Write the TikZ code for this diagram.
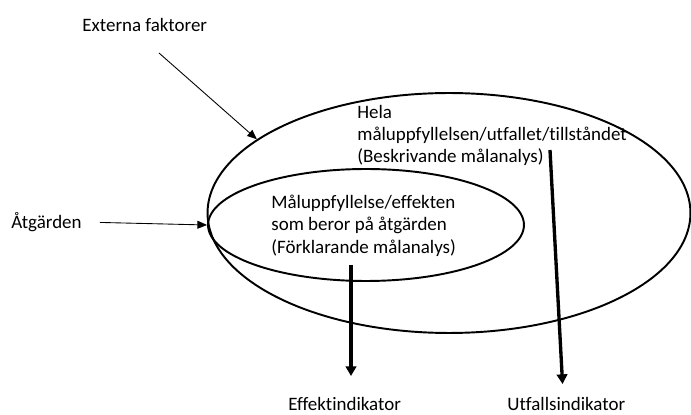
\documentclass[tikz,border=0pt]{standalone}
\usepackage{fontspec}
\setmainfont{Carlito}[Ligatures=NoCommon]
\usetikzlibrary{shapes.geometric, arrows.meta, positioning}
\tikzset{
  lbl/.style={inner sep=0pt, align=left, font=\fontsize{10.8}{12.6}\selectfont},
  ring/.style={ellipse, draw, line width=1.1pt, inner sep=0pt},
  thinarrow/.style={-{Triangle[length=5.5pt, width=4.5pt]}, line width=0.5pt},
  fatarrow/.style={-{Triangle[length=5.5pt, width=6pt]}, line width=1.9pt},
}

\begin{document}
\begin{tikzpicture}[x=0.02cm, y=-0.02cm]
  \useasboundingbox (0,0) rectangle (691,415);
  % the two areas
  \node[ring, minimum width=9.66cm, minimum height=4.8cm] (outer) at (449,213) {};
  \node[ring, minimum width=6.32cm, minimum height=2.24cm] (inner) at (366,225) {};
  % texts
  \node[lbl, anchor=north west] (ext) at (82,18) {Externa faktorer};
  \node[lbl, anchor=north west] (atg) at (11,212) {Åtgärden};
  \node[lbl, anchor=north west] (hela) at (357,105)
    {Hela\\måluppfyllelsen/utfallet/tillståndet\\(Beskrivande målanalys)};
  \node[lbl, anchor=north west] (forkl) at (271,195)
    {Måluppfyllelse/effekten\\som beror på åtgärden\\(Förklarande målanalys)};
  \node[lbl, anchor=north west] (eff) at (288,397) {Effektindikator};
  \node[lbl, anchor=north west] (utf) at (507,397) {Utfallsindikator};
  \coordinate (extstart) at (159,53);
  \coordinate (effstart) at (351,265);
  \coordinate (utfstart) at (550,150);
  % arrows
  \draw[thinarrow] (extstart) -- (outer.159);
  \draw[thinarrow, shorten <=0.36cm] (atg.east) -- (inner.west);
  \draw[fatarrow, shorten >=0.42cm] (effstart) -- (effstart |- eff.north);
  \draw[fatarrow, shorten >=0.26cm] (utfstart) -- ([xshift=-0.06cm]utf.north);
\end{tikzpicture}
\end{document}
